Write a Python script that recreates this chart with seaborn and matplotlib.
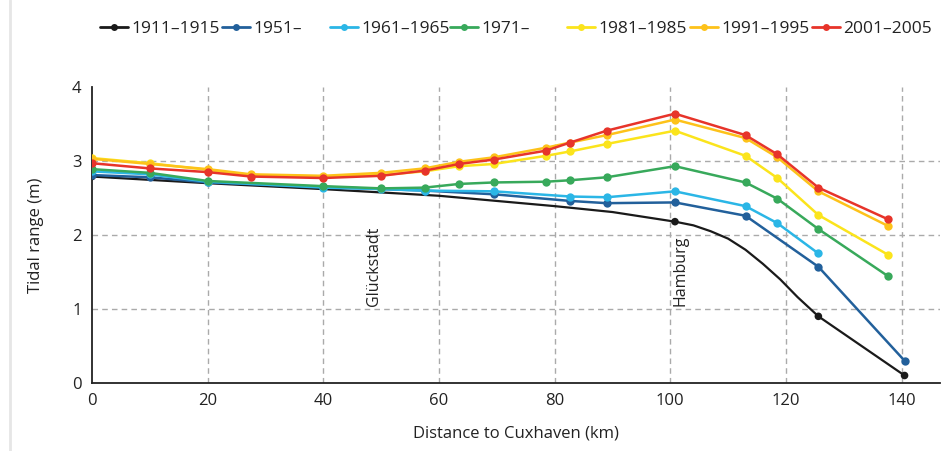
# %%
# Import packages
import numpy as np
import pandas as pd
import seaborn as sns
import matplotlib.pyplot as plt
from matplotlib.lines import Line2D

# %%
# Tidal range along the Elbe
x_1911 = [0, 20, 40, 60, 80, 90, 100.8, 104, 107, 110, 113, 116, 119, 122, 125.6, 140.5]
y_1911 = [2.79, 2.70, 2.62, 2.53, 2.39, 2.31, 2.18, 2.13, 2.05, 1.95, 1.80, 1.61, 1.40, 1.16, 0.90, 0.10]
mark_1911 = [0, 6, 14, 15]  # only these stations carry a marker

x_1951 = [0, 10, 20, 40, 57.5, 69.5, 82.7, 89, 100.8, 113, 125.6, 140.5]
y_1951 = [2.81, 2.78, 2.71, 2.65, 2.60, 2.55, 2.46, 2.43, 2.44, 2.26, 1.57, 0.30]

x_1961 = [0, 10, 20, 40, 50, 57.5, 69.5, 82.7, 89, 100.8, 113, 118.5, 125.6]
y_1961 = [2.86, 2.82, 2.72, 2.64, 2.62, 2.60, 2.59, 2.52, 2.51, 2.59, 2.39, 2.16, 1.75]

x_1971 = [0, 10, 20, 40, 50, 57.5, 63.5, 69.5, 78.5, 82.7, 89, 100.8, 113, 118.5, 125.6, 137.7]
y_1971 = [2.89, 2.84, 2.73, 2.66, 2.63, 2.64, 2.69, 2.71, 2.72, 2.74, 2.78, 2.93, 2.71, 2.49, 2.08, 1.44]

stations = [0, 10, 20, 27.5, 40, 50, 57.5, 63.5, 69.5, 78.5, 82.7, 89, 100.8, 113, 118.5, 125.6, 137.7]
y_1981 = [3.04, 2.97, 2.88, 2.81, 2.79, 2.81, 2.86, 2.93, 2.96, 3.07, 3.13, 3.23, 3.41, 3.07, 2.77, 2.27, 1.73]
y_1991 = [3.03, 2.96, 2.89, 2.82, 2.80, 2.84, 2.90, 2.99, 3.05, 3.18, 3.25, 3.35, 3.56, 3.31, 3.05, 2.59, 2.12]
y_2001 = [2.97, 2.90, 2.85, 2.79, 2.77, 2.80, 2.87, 2.96, 3.02, 3.14, 3.25, 3.41, 3.64, 3.35, 3.09, 2.64, 2.21]

labels = ['1911–1915', '1951–', '1961–1965', '1971–', '1981–1985', '1991–1995', '2001–2005']
colors = ['#1a1a1a', '#22609b', '#2bb6e6', '#38a95b', '#fbe41c', '#fdc21a', '#e7342a']

places = ['Glückstadt', 'Hamburg']
place_x = [48.8, 101.7]

# %%
sns.set_style('white')
plt.rcParams['font.family'] = ['Open Sans', 'DejaVu Sans']
plt.rcParams['text.color'] = '#222222'
plt.rcParams['axes.labelcolor'] = '#222222'
plt.rcParams['xtick.color'] = '#222222'
plt.rcParams['ytick.color'] = '#222222'

fig = plt.figure(figsize=(9.48, 4.51), dpi=100)
ax = fig.add_axes([0.097, 0.151, 0.895, 0.656])

series = [
    (x_1911, y_1911),
    (x_1951, y_1951),
    (x_1961, y_1961),
    (x_1971, y_1971),
    (stations, y_1981),
    (stations, y_1991),
    (stations, y_2001),
]

for i, ((xs, ys), color) in enumerate(zip(series, colors)):
    df = pd.DataFrame({'km': xs, 'range': ys})
    if i == 0:
        sns.lineplot(data=df, x='km', y='range', color=color, lw=1.6, sort=False, ax=ax, zorder=3)
        sns.scatterplot(data=df.iloc[mark_1911], x='km', y='range', color=color, s=30,
                        edgecolor='none', ax=ax, zorder=4)
    else:
        sns.lineplot(data=df, x='km', y='range', color=color, lw=1.8, sort=False,
                     marker='o', markersize=6, markeredgewidth=0, ax=ax, zorder=3 + i)

# Place names
for name, px in zip(places, place_x):
    ax.text(px, 1.04, name, rotation=90, ha='center', va='bottom', fontsize=11.5)

ax.set_xlim(0, 146.7)
ax.set_ylim(0, 4)
ax.set_xticks(np.arange(0, 141, 20))
ax.set_yticks([0, 1, 2, 3, 4])
ax.tick_params(axis='both', direction='out', length=4, width=1, labelsize=12)
ax.grid(True, ls=(0, (4, 3)), color='#aaaaaa', lw=1)
ax.xaxis.get_gridlines()[0].set_visible(False)
ax.yaxis.get_gridlines()[0].set_visible(False)
ax.yaxis.get_gridlines()[-1].set_visible(False)
sns.despine(ax=ax)
for side in ['left', 'bottom']:
    ax.spines[side].set_color('#222222')
    ax.spines[side].set_linewidth(1.3)

ax.set_xlabel('Distance to Cuxhaven (km)', fontsize=12, labelpad=12)
ax.set_ylabel('Tidal range (m)', fontsize=12, labelpad=20)

# Legend across the top, one entry per slot
legend_x = [100, 222, 330, 450, 567, 690, 812]
for lab, color, lx in zip(labels, colors, legend_x):
    h = Line2D([], [], color=color, lw=2, marker='o', markersize=5, markeredgewidth=0)
    fig.legend(handles=[h], labels=[lab], loc='center left', bbox_to_anchor=(lx / 948, 1 - 29 / 451),
               frameon=False, borderpad=0, borderaxespad=0, handlelength=1.6,
               handletextpad=0.2, fontsize=12.5)

# light frame on the left edge
fig.add_artist(Line2D([0.011, 0.011], [0, 1], color='#e6e6e6', lw=2, transform=fig.transFigure))

fig.savefig('out.png', dpi=100)
